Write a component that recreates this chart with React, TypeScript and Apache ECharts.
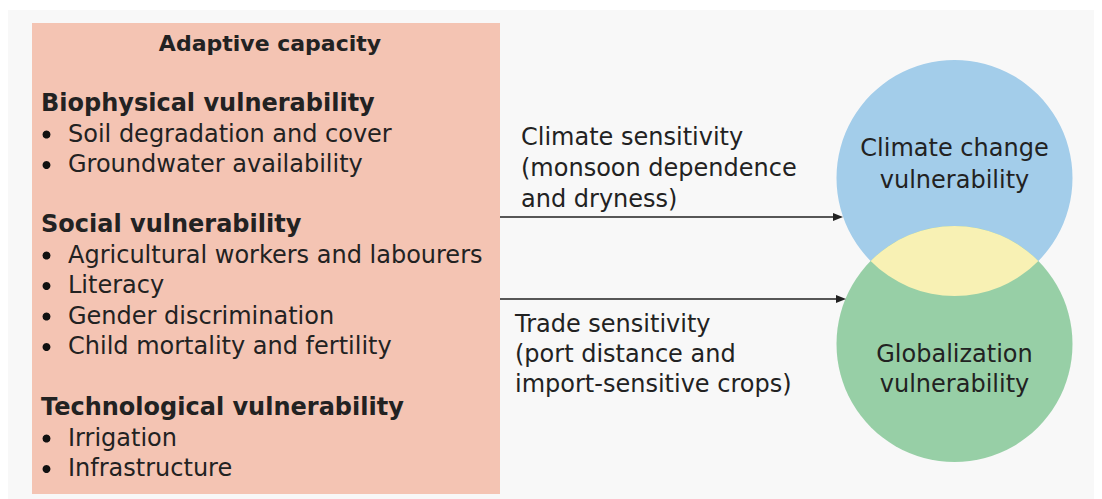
import React, { useEffect, useRef } from "react";
import * as echarts from "echarts";

const title = "Adaptive capacity";
const groupHeads = ["Biophysical vulnerability", "Social vulnerability", "Technological vulnerability"];
const groupItems = [
  ["Soil degradation and cover", "Groundwater availability"],
  ["Agricultural workers and labourers", "Literacy", "Gender discrimination", "Child mortality and fertility"],
  ["Irrigation", "Infrastructure"],
];
const climateLabel = ["Climate sensitivity", "(monsoon dependence", "and dryness)"];
const tradeLabel = ["Trade sensitivity", "(port distance and", "import-sensitive crops)"];
const climateCircle = ["Climate change", "vulnerability"];
const globalCircle = ["Globalization", "vulnerability"];

const FONT = "'DejaVu Sans', Verdana, sans-serif";
const TXT = "#222";

export default function App() {
  const ref = useRef<HTMLDivElement>(null);
  useEffect(() => {
    if (!ref.current) return;
    const chart = echarts.init(ref.current, null, { renderer: "svg" });

    const cx = 954.5, r = 118, cyA = 178, cyB = 344;
    const d = cyB - cyA;
    const h = d / 2;
    const half = Math.sqrt(r * r - h * h);
    const ly = cyA + h;
    const lensPath = `M ${cx - half} ${ly} A ${r} ${r} 0 0 1 ${cx + half} ${ly} A ${r} ${r} 0 0 1 ${cx - half} ${ly} Z`;
    echarts.graphic.registerShape("lens", (echarts.graphic as any).extendPath(lensPath, {}));

    const els: any[] = [];
    els.push({ type: "rect", shape: { x: 8, y: 10, width: 1086, height: 489 }, style: { fill: "#f8f8f8" } });
    els.push({ type: "rect", shape: { x: 32, y: 23, width: 468, height: 471 }, style: { fill: "#f4c4b3" } });

    const t = (text: string, x: number, y: number, opts: any = {}) =>
      els.push({
        type: "text",
        x, y,
        style: {
          text,
          fill: TXT,
          font: `${opts.bold ? "bold " : ""}${opts.size || 24}px ${FONT}`,
          textAlign: opts.align || "left",
          textVerticalAlign: "middle",
        },
      });

    t(title, 270, 43, { bold: true, align: "center", size: 22 });
    const headY = [103, 224, 407];
    groupHeads.forEach((hd, gi) => {
      t(hd, 41, headY[gi], { bold: true });
      groupItems[gi].forEach((it, ii) => {
        const y = headY[gi] + 30.5 * (ii + 1);
        els.push({ type: "circle", shape: { cx: 46.5, cy: y + 1, r: 4 }, style: { fill: "#111" } });
        t(it, 68, y);
      });
    });

    climateLabel.forEach((s, i) => t(s, 521, 137 + 31 * i));
    tradeLabel.forEach((s, i) => t(s, 515, 324 + 30 * i));

    const arrow = (y: number, x2: number) => {
      els.push({ type: "line", shape: { x1: 500, y1: y, x2: x2 - 6, y2: y }, style: { stroke: "#222", lineWidth: 1.5 } });
      els.push({ type: "polygon", shape: { points: [[x2, y], [x2 - 10, y - 4], [x2 - 10, y + 4]] }, style: { fill: "#222" } });
    };

    els.push({ type: "circle", shape: { cx, cy: cyA, r }, style: { fill: "#a3cdea" } });
    els.push({ type: "circle", shape: { cx, cy: cyB, r }, style: { fill: "#97cfa6" } });
    els.push({ type: "lens", x: 0, y: 0, style: { fill: "#f8f1b4" } });
    arrow(217, 843);
    arrow(299, 846);

    climateCircle.forEach((s, i) => t(s, cx, 148 + 32 * i, { align: "center" }));
    globalCircle.forEach((s, i) => t(s, cx, 354 + 30 * i, { align: "center" }));

    chart.setOption({ animation: false, graphic: { elements: els } });
    return () => chart.dispose();
  }, []);
  return <div ref={ref} style={{ position: "fixed", left: 0, top: 0, width: 1102, height: 499, background: "#fff" }} />;
}
